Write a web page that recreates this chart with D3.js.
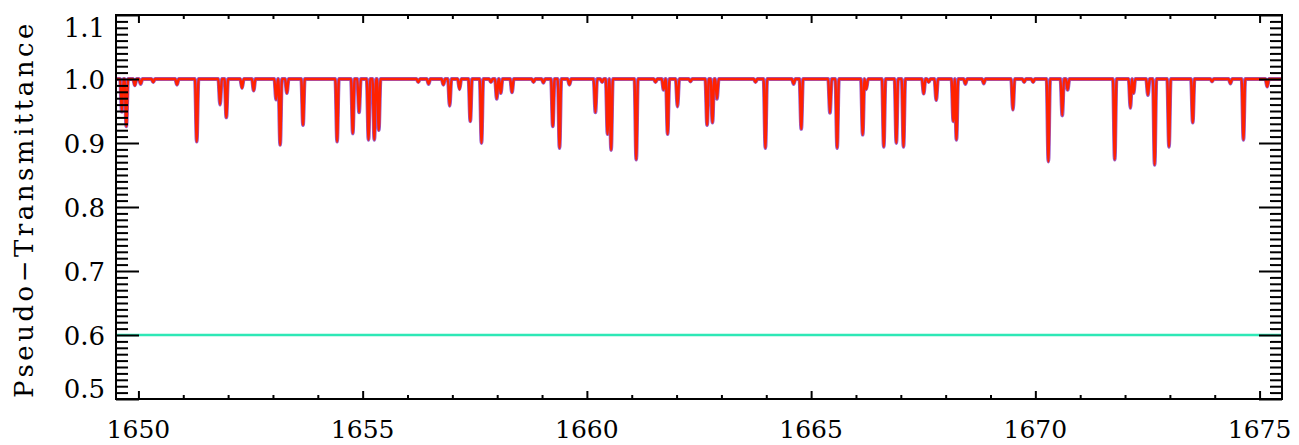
<!DOCTYPE html>
<html><head><meta charset="utf-8">
<script src="https://cdn.jsdelivr.net/npm/d3@7"></script>
<style>body{margin:0;background:#fff} svg{display:block}</style>
</head><body>
<svg id="c" width="1299" height="445"></svg>
<script>
// ---- data ----
const xDomain = [1649.5, 1675.5];
const yDomain = [0.5, 1.1];
const xMajorTicks = [1650, 1655, 1660, 1665, 1670, 1675];
const xTickLabels = ["1650", "1655", "1660", "1665", "1670", "1675"];
const yMajorTicks = [0.5, 0.6, 0.7, 0.8, 0.9, 1.0, 1.1];
const yTickLabels = ["0.5", "0.6", "0.7", "0.8", "0.9", "1.0", "1.1"];
const yAxisTitle = "Pseudo\u2212Transmittance";

// absorption line centres (wavelength) and their minimum transmittance
const dipWave = [1649.63, 1649.73, 1649.92, 1650.05, 1650.33, 1650.86, 1651.30, 1651.82, 1651.96, 1652.31,
  1652.57, 1653.07, 1653.16, 1653.31, 1653.67, 1654.43, 1654.78, 1654.92, 1655.13, 1655.26,
  1655.36, 1656.24, 1656.47, 1656.80, 1656.94, 1657.16, 1657.40, 1657.65, 1657.86, 1657.99,
  1658.08, 1658.33, 1658.81, 1659.03, 1659.24, 1659.39, 1659.61, 1660.19, 1660.34, 1660.46,
  1660.54, 1661.10, 1661.53, 1661.71, 1661.80, 1662.02, 1662.31, 1662.68, 1662.80, 1662.90,
  1663.76, 1663.98, 1664.61, 1664.78, 1665.42, 1665.58, 1666.15, 1666.23, 1666.62, 1666.90,
  1667.06, 1667.51, 1667.62, 1667.79, 1668.17, 1668.24, 1668.44, 1668.85, 1669.50, 1669.75,
  1669.95, 1670.29, 1670.60, 1670.72, 1671.77, 1672.12, 1672.19, 1672.51, 1672.66, 1672.98,
  1673.51, 1673.94, 1674.35, 1674.64, 1675.17];
const dipMin = [0.949, 0.926, 0.990, 0.992, 0.995, 0.991, 0.902, 0.960, 0.940, 0.986,
  0.982, 0.968, 0.897, 0.978, 0.928, 0.902, 0.915, 0.948, 0.905, 0.905,
  0.920, 0.995, 0.992, 0.991, 0.958, 0.984, 0.934, 0.900, 0.995, 0.969,
  0.978, 0.979, 0.995, 0.994, 0.926, 0.892, 0.991, 0.948, 0.995, 0.914,
  0.889, 0.874, 0.995, 0.983, 0.914, 0.957, 0.996, 0.928, 0.932, 0.969,
  0.995, 0.892, 0.992, 0.922, 0.947, 0.892, 0.913, 0.984, 0.894, 0.900,
  0.894, 0.977, 0.995, 0.967, 0.934, 0.905, 0.992, 0.993, 0.952, 0.995,
  0.995, 0.871, 0.943, 0.983, 0.874, 0.955, 0.978, 0.975, 0.866, 0.894,
  0.932, 0.996, 0.993, 0.905, 0.988];
const continuumLevel = 1.0;
// flat reference line
const refWave = [1649.5, 1675.5];
const refValue = [0.6, 0.6];

// ---- layout ----
const L = 116, R = 1282, T = 15, B = 399;
const halfW = 0.04;

const svg = d3.select("#c");
const x = d3.scaleLinear().domain(xDomain).range([L, R]);
const y = d3.scaleLinear().domain(yDomain).range([B, T]);

// build spectrum points from the dip list
const spec = [[xDomain[0], continuumLevel]];
for (let i = 0; i < dipWave.length; i++) {
  const c = dipWave[i];
  const prev = i > 0 ? dipWave[i - 1] : -Infinity;
  const next = i < dipWave.length - 1 ? dipWave[i + 1] : Infinity;
  const lw = Math.min(halfW, (c - prev) / 2);
  const rw = Math.min(halfW, (next - c) / 2);
  if (!(i > 0 && (c - prev) / 2 <= halfW)) spec.push([c - lw, continuumLevel]);
  spec.push([c, dipMin[i]]);
  spec.push([c + rw, continuumLevel]);
}
spec.push([xDomain[1], continuumLevel]);

const fontFam = "'DejaVu Serif', 'Liberation Serif', serif";

svg.append("defs").append("clipPath").attr("id", "clip")
  .append("rect").attr("x", L).attr("y", T).attr("width", R - L).attr("height", B - T);

const line = d3.line().x(d => x(d[0])).y(d => y(d[1])).curve(d3.curveMonotoneX);
const g = svg.append("g").attr("clip-path", "url(#clip)");
g.append("path").datum(refWave.map((w, i) => [w, refValue[i]]))
  .attr("d", line).attr("fill", "none").attr("stroke", "#2ee8b6").attr("stroke-width", 2.4);
g.append("path").datum(spec).attr("d", line).attr("fill", "none")
  .attr("stroke", "#9a5ac8").attr("stroke-width", 3.8).attr("stroke-linejoin", "round");
g.append("path").datum(spec).attr("d", line).attr("fill", "none")
  .attr("stroke", "#ff2200").attr("stroke-width", 2.4).attr("stroke-linejoin", "round");

// ---- ticks ----
const xMinor = d3.range(1650, 1676, 1).filter(v => !xMajorTicks.includes(v));
const yMinor = d3.range(50, 111, 1).map(v => v / 100).filter(v => !yMajorTicks.some(m => Math.abs(m - v) < 1e-9));

function styleAxis(sel) {
  sel.select(".domain").remove();
  sel.selectAll(".tick line").attr("stroke", "#000").attr("stroke-width", 2);
  sel.selectAll(".tick text").remove();
}
svg.append("g").attr("transform", `translate(0,${B})`).call(d3.axisBottom(x).tickValues(xMinor).tickSize(-4).tickFormat("")).call(styleAxis);
svg.append("g").attr("transform", `translate(0,${B})`).call(d3.axisBottom(x).tickValues(xMajorTicks).tickSize(-8).tickFormat("")).call(styleAxis);
svg.append("g").attr("transform", `translate(0,${T})`).call(d3.axisTop(x).tickValues(xMinor).tickSize(-4).tickFormat("")).call(styleAxis);
svg.append("g").attr("transform", `translate(0,${T})`).call(d3.axisTop(x).tickValues(xMajorTicks).tickSize(-8).tickFormat("")).call(styleAxis);
svg.append("g").attr("transform", `translate(${L},0)`).call(d3.axisLeft(y).tickValues(yMinor).tickSize(-12).tickFormat("")).call(styleAxis);
svg.append("g").attr("transform", `translate(${L},0)`).call(d3.axisLeft(y).tickValues(yMajorTicks).tickSize(-23).tickFormat("")).call(styleAxis);
svg.append("g").attr("transform", `translate(${R},0)`).call(d3.axisRight(y).tickValues(yMinor).tickSize(-12).tickFormat("")).call(styleAxis);
svg.append("g").attr("transform", `translate(${R},0)`).call(d3.axisRight(y).tickValues(yMajorTicks).tickSize(-23).tickFormat("")).call(styleAxis);

// frame
svg.append("rect").attr("x", L).attr("y", T).attr("width", R - L).attr("height", B - T)
  .attr("fill", "none").attr("stroke", "#000").attr("stroke-width", 2);

// ---- labels ----
svg.append("g").selectAll("text").data(xMajorTicks).join("text")
  .attr("x", d => x(d)).attr("y", 438).attr("text-anchor", "middle")
  .attr("font-family", fontFam).attr("font-size", 25).attr("fill", "#000")
  .text((d, i) => xTickLabels[i]);

svg.append("g").selectAll("text").data(yMajorTicks).join("text")
  .attr("x", 105).attr("y", d => Math.max(T + 13, Math.min(B - 10, y(d) + 1)))
  .attr("dy", "0.36em").attr("text-anchor", "end")
  .attr("font-family", fontFam).attr("font-size", 26).attr("fill", "#000")
  .text((d, i) => yTickLabels[i]);

svg.append("text").attr("transform", `translate(33,${(T + B) / 2 + 2}) rotate(-90)`)
  .attr("text-anchor", "middle").attr("font-family", fontFam).attr("font-size", 26)
  .attr("letter-spacing", 3.5).attr("fill", "#000").text(yAxisTitle);
</script>
</body></html>
